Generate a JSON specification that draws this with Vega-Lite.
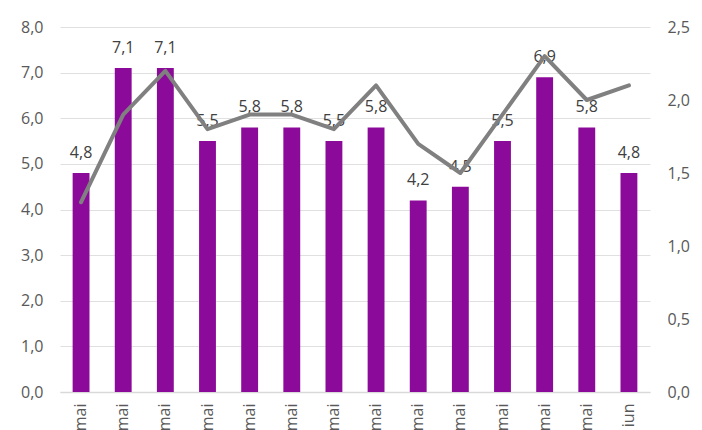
{
  "$schema": "https://vega.github.io/schema/vega-lite/v6.json",
  "width": 590,
  "height": 365,
  "autosize": {"type": "none"},
  "padding": {"left": 60, "top": 27, "right": 52, "bottom": 38},
  "background": "white",
  "config": {
    "locale": {"number": {"decimal": ",", "thousands": ".", "grouping": [3], "currency": ["", " €"]}},
    "view": {"stroke": null},
    "font": "Open Sans"
  },
  "data": {"values": [
    {"k": "01", "label": "mai", "bar": 4.8, "line": 1.3},
    {"k": "02", "label": "mai", "bar": 7.1, "line": 1.9},
    {"k": "03", "label": "mai", "bar": 7.1, "line": 2.2},
    {"k": "04", "label": "mai", "bar": 5.5, "line": 1.8},
    {"k": "05", "label": "mai", "bar": 5.8, "line": 1.9},
    {"k": "06", "label": "mai", "bar": 5.8, "line": 1.9},
    {"k": "07", "label": "mai", "bar": 5.5, "line": 1.8},
    {"k": "08", "label": "mai", "bar": 5.8, "line": 2.1},
    {"k": "09", "label": "mai", "bar": 4.2, "line": 1.7},
    {"k": "10", "label": "mai", "bar": 4.5, "line": 1.5},
    {"k": "11", "label": "mai", "bar": 5.5, "line": 1.9},
    {"k": "12", "label": "mai", "bar": 6.9, "line": 2.3},
    {"k": "13", "label": "mai", "bar": 5.8, "line": 2.0},
    {"k": "14", "label": "iun", "bar": 4.8, "line": 2.1}
  ]},
  "encoding": {
    "x": {
      "field": "k", "type": "nominal", "sort": null,
      "scale": {"paddingInner": 0.6, "paddingOuter": 0.3},
      "axis": {
        "title": null, "labelAngle": -90,
        "labelExpr": "datum.value == '14' ? 'iun' : 'mai'",
        "labelAlign": "right", "labelBaseline": "middle",
        "labelPadding": 11, "labelFontSize": 16, "labelColor": "#595959",
        "ticks": false, "domainColor": "#d9d9d9", "domainWidth": 1.5
      }
    }
  },
  "layer": [
    {
      "layer": [
        {
          "mark": {"type": "bar", "color": "#8B0A99"},
          "encoding": {
            "y": {
              "field": "bar", "type": "quantitative",
              "scale": {"domain": [0, 8], "nice": false},
              "axis": {
                "title": null, "orient": "left", "values": [0,1,2,3,4,5,6,7,8],
                "format": ".1f", "labelFontSize": 16, "labelColor": "#595959",
                "labelPadding": 17, "ticks": false, "domain": false,
                "gridColor": "#e0e0e0", "gridWidth": 1
              }
            }
          }
        },
        {
          "mark": {"type": "text", "dy": -15, "baseline": "alphabetic", "fontSize": 16, "color": "#404040"},
          "encoding": {
            "y": {"field": "bar", "type": "quantitative"},
            "text": {"field": "bar", "type": "quantitative", "format": ".1f"}
          }
        }
      ]
    },
    {
      "mark": {"type": "line", "color": "#808080", "strokeWidth": 4, "strokeJoin": "round", "strokeCap": "round"},
      "encoding": {
        "y": {
          "field": "line", "type": "quantitative",
          "scale": {"domain": [0, 2.5], "nice": false},
          "axis": {
            "title": null, "orient": "right", "values": [0, 0.5, 1, 1.5, 2, 2.5],
            "format": ".1f", "labelFontSize": 16, "labelColor": "#595959",
            "labelPadding": 17, "ticks": false, "domain": false, "grid": false
          }
        }
      }
    }
  ],
  "resolve": {"scale": {"y": "independent"}}
}
